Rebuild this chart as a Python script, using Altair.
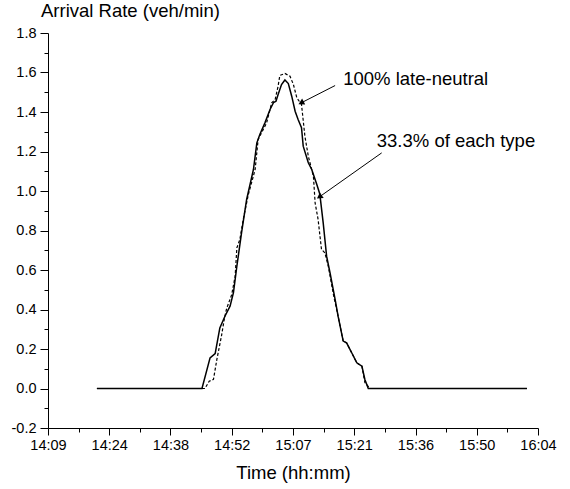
import altair as alt
import pandas as pd

# Time in minutes after midnight, arrival rate in veh/min
solid_t = [861.1, 885.8, 887.7, 888.9, 890.0, 891.2, 892.4, 893.2, 894.0, 895.1, 896.3,
           897.9, 898.7, 899.4, 900.6, 901.8, 902.6, 903.2, 903.7, 904.5, 905.3, 906.1,
           906.9, 907.7, 908.4, 909.2, 909.6, 910.8, 911.6, 912.8, 913.5, 914.3, 915.1,
           915.9, 917.1, 917.8, 919.0, 919.8, 921.0, 922.2, 923.4, 924.1, 924.9, 962.2]
solid_r = [0.0, 0.0, 0.155, 0.177, 0.307, 0.366, 0.417, 0.485, 0.619, 0.788, 0.957,
           1.109, 1.244, 1.286, 1.345, 1.413, 1.447, 1.455, 1.489, 1.539, 1.562, 1.544,
           1.480, 1.404, 1.362, 1.320, 1.227, 1.143, 1.109, 1.033, 0.985, 0.839, 0.670,
           0.586, 0.451, 0.366, 0.240, 0.231, 0.181, 0.130, 0.113, 0.046, 0.0, 0.0]

dash_t = [861.1, 886.5, 887.5, 888.5, 889.3, 890.4, 891.1, 891.6, 892.8, 893.6, 894.0,
          894.7, 895.5, 896.7, 898.3, 899.0, 900.2, 901.0, 902.2, 903.0, 903.7, 904.1,
          905.3, 906.5, 907.3, 908.1, 909.2, 910.0, 910.8, 912.0, 912.4, 913.1, 913.9,
          914.7, 915.5, 916.7, 917.8, 919.0, 919.8, 921.0, 922.2, 923.4, 924.1, 925.3, 962.2]
dash_r = [0.0, 0.0, 0.037, 0.046, 0.147, 0.268, 0.358, 0.405, 0.476, 0.569, 0.712,
          0.754, 0.856, 0.982, 1.109, 1.261, 1.311, 1.345, 1.447, 1.463, 1.531, 1.585,
          1.595, 1.581, 1.539, 1.472, 1.438, 1.277, 1.176, 1.075, 0.940, 0.856, 0.704,
          0.687, 0.619, 0.476, 0.366, 0.240, 0.231, 0.181, 0.130, 0.113, 0.030, 0.0, 0.0]

label_text = ["100% late-neutral", "33.3% of each type"]
label_t = [919.0, 926.9]
label_r = [1.565, 1.252]
arrow_t0 = [917.1, 928.05]
arrow_r0 = [1.534, 1.193]
arrow_t1 = [909.1, 913.4]
arrow_r1 = [1.446, 0.970]
arrow_ang = [153, 145]

x_major = [round(849.6 + 14.4 * k, 1) for k in range(9)]
x_minor = [round(856.8 + 14.4 * k, 1) for k in range(8)]
y_major = [round(-0.2 + 0.2 * k, 1) for k in range(11)]
y_minor = [round(-0.1 + 0.2 * k, 1) for k in range(10)]

FONT = "Liberation Sans"

solid_df = pd.DataFrame({"t": solid_t, "r": solid_r})
dash_df = pd.DataFrame({"t": dash_t, "r": dash_r})
lab_df = pd.DataFrame({"txt": label_text, "t": label_t, "r": label_r})
arr_df = pd.DataFrame({"t0": arrow_t0, "r0": arrow_r0, "t1": arrow_t1,
                       "r1": arrow_r1, "ang": arrow_ang})

x_label = ("floor((datum.value+0.01)/60) + ':' + "
           "(floor((datum.value+0.01)%60) < 10 ? '0' : '') + floor((datum.value+0.01)%60)")
y_label = "replace(format(datum.value, '.1f'), '\u2212', '-')"

xscale = alt.Scale(domain=[849.6, 964.8], nice=False, zero=False)
yscale = alt.Scale(domain=[-0.2, 1.8], nice=False, zero=False)

xaxis = alt.Axis(values=x_major, labelExpr=x_label, title="Time (hh:mm)", orient="bottom",
                 grid=False, domainColor="black", tickColor="black", tickSize=7,
                 labelOverlap=False,
                 labelFont=FONT, labelFontSize=14.5, labelColor="black", labelPadding=3,
                 titleFont=FONT, titleFontSize=18.5, titleFontWeight="normal",
                 titleColor="black", titlePadding=12, labelFlush=False)
yaxis = alt.Axis(values=y_major, labelExpr=y_label, title=None, orient="left",
                 grid=False, domainColor="black", tickColor="black", tickSize=8,
                 labelOverlap=False,
                 labelFont=FONT, labelFontSize=14.5, labelColor="black", labelPadding=4,
                 labelFlush=False)
xaxis_minor = alt.Axis(values=x_minor, labels=False, title=None, orient="bottom",
                       grid=False, domain=False, tickColor="black", tickSize=4)
yaxis_minor = alt.Axis(values=y_minor, labels=False, title=None, orient="left",
                       grid=False, domain=False, tickColor="black", tickSize=4)

solid = alt.Chart(solid_df).mark_line(color="black", strokeWidth=1.5).encode(
    x=alt.X("t:Q", scale=xscale, axis=xaxis),
    y=alt.Y("r:Q", scale=yscale, axis=yaxis),
)
dashed = alt.Chart(dash_df).mark_line(color="black", strokeWidth=1.2,
                                      strokeDash=[3, 2]).encode(
    x=alt.X("t:Q", scale=xscale, axis=xaxis_minor),
    y=alt.Y("r:Q", scale=yscale, axis=yaxis_minor),
)
labels = alt.Chart(lab_df).mark_text(align="left", baseline="middle", font=FONT,
                                     fontSize=18.5, color="black").encode(
    x=alt.X("t:Q", axis=None), y=alt.Y("r:Q", axis=None), text="txt:N")
rules = alt.Chart(arr_df).mark_rule(color="black", strokeWidth=1).encode(
    x=alt.X("t0:Q", axis=None), y=alt.Y("r0:Q", axis=None), x2="t1:Q", y2="r1:Q")
heads = alt.Chart(arr_df).mark_point(shape="triangle-right", filled=True,
                                     color="black", opacity=1, size=45).encode(
    x=alt.X("t1:Q", axis=None), y=alt.Y("r1:Q", axis=None),
    angle=alt.Angle("ang:Q", scale=None))

chart = alt.layer(solid, dashed, rules, heads, labels).resolve_axis(
    x="independent", y="independent"
).properties(
    width=490, height=395,
    title=alt.TitleParams("Arrival Rate (veh/min)", anchor="start", frame="group",
                          dx=-7, dy=21, offset=11, baseline="alphabetic", font=FONT,
                          fontSize=18.5, fontWeight="normal", color="black"),
    autosize=alt.AutoSizeParams(type="none"),
    padding={"left": 48, "top": 33, "right": 32, "bottom": 61},
    background="white",
).configure_view(stroke=None)

chart.save("out.html", embed_options={"renderer": "svg", "actions": False})
